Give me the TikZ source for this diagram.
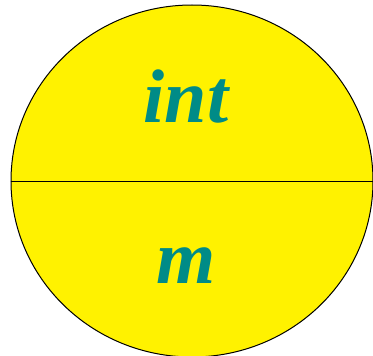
\documentclass[tikz,border=0pt]{standalone}
\usepackage{fontspec}
\setmainfont{Liberation Serif}
\usepackage{xcolor}
\definecolor{tealtext}{RGB}{0,139,135}
\begin{document}
\begin{tikzpicture}[
    x=1pt, y=1pt,
    label/.style={text=tealtext, font=\fontsize{76}{76}\selectfont\bfseries\itshape, inner sep=0pt, anchor=base}
]
\useasboundingbox (0,0) rectangle (373,-356);
\clip (0,0) rectangle (373,-356);
\coordinate (c) at (192,-181);
\draw[fill=yellow, line width=1pt] (c) ellipse [x radius=181, y radius=176];
\coordinate (l) at (11,-181);
\coordinate (r) at (373,-181);
\draw[line width=1pt] (l) -- (r);
\node[label] (top) at (186,-122) {int};
\node[label] (bot) at (186,-283) {m};
\end{tikzpicture}
\end{document}
